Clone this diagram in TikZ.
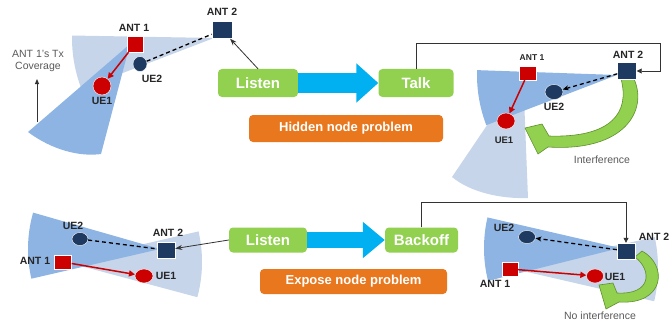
\documentclass[tikz,border=0pt]{standalone}
\usepackage{fontspec}
\setmainfont{Liberation Sans}
\usetikzlibrary{arrows.meta,shapes.geometric,calc}
\definecolor{lightcone}{HTML}{C6D5E9}
\definecolor{darkcone}{HTML}{8EB4E3}
\definecolor{navy}{HTML}{1F3A60}
\definecolor{redant}{HTML}{CC0000}
\definecolor{greenbox}{HTML}{92D050}
\definecolor{orangebox}{HTML}{E8771E}
\definecolor{cyanarrow}{HTML}{00B0F0}
\definecolor{greenedge}{HTML}{5E8F2A}
\definecolor{labelgray}{HTML}{595959}
\begin{document}
\begin{tikzpicture}[x=1pt,y=-1pt,
  antR/.style={rectangle,inner sep=0,fill=redant,draw=white,line width=0.4pt},
  antB/.style={rectangle,inner sep=0,fill=navy,draw=white,line width=0.4pt},
  ueR/.style={ellipse,inner sep=0,fill=redant,draw=white,line width=0.4pt},
  ueB/.style={ellipse,inner sep=0,fill=navy,draw=white,line width=0.4pt},
  lbl/.style={font=\fontsize{10.5}{12}\selectfont\bfseries,text=black!85,inner sep=0},
  stepbox/.style={rounded corners=4pt,fill=greenbox,text=white,font=\fontsize{15}{18}\selectfont\bfseries,inner sep=0},
  probbox/.style={rounded corners=4pt,fill=orangebox,text=white,font=\fontsize{13}{15}\selectfont\bfseries,inner sep=0},
  note/.style={font=\fontsize{10.5}{12}\selectfont,text=labelgray,inner sep=0},
  tx/.style={redant,line width=1.5pt,-{Triangle[length=6pt,width=6pt]}},
  dsh/.style={black,line width=1.3pt,dash pattern=on 4pt off 3pt},
  dsharrow/.style={dsh,-{Stealth[length=6pt,width=5pt]}},
  ctl/.style={black!80,line width=0.8pt},
  interf/.style={fill=greenbox,draw=greenedge,line width=0.6pt}]
\useasboundingbox (0,0) rectangle (669,321);

% ---------- coverage cones ----------
% top-left
\fill[lightcone] (214,38) -- plot[domain=159:181,samples=25] ({214+142*cos(\x)},{38+142*sin(\x)}) -- cycle;
\fill[darkcone] (130,44) -- (28,132) .. controls (52,150) and (80,157) .. (101,154) -- cycle;
% top-right
\fill[lightcone] (523,72) -- (452,177) .. controls (470,192) and (500,199) .. (528,198) -- cycle;
\fill[darkcone] (617,75) -- plot[domain=159:182,samples=25] ({617+140*cos(\x)},{75+140*sin(\x)}) -- cycle;
% bottom-left
\fill[lightcone] (66,262) -- plot[domain=-13:15,samples=25] ({66+136*cos(\x)},{262+136*sin(\x)}) -- cycle;
\fill[darkcone] (160,249) -- plot[domain=167:196,samples=25] ({160+132*cos(\x)},{249+132*sin(\x)}) -- cycle;
% bottom-right
\fill[lightcone] (510,268) -- plot[domain=-12:13,samples=25] ({510+148*cos(\x)},{268+148*sin(\x)}) -- cycle;
\fill[darkcone] (620,248) -- plot[domain=166:193,samples=25] ({620+136*cos(\x)},{248+136*sin(\x)}) -- cycle;

% ---------- process boxes ----------
\node[stepbox,minimum width=80pt,minimum height=28pt] (L1) at (258,83) {Listen};
\node[stepbox,minimum width=75pt,minimum height=28pt] (T) at (416,83) {Talk};
\node[probbox,minimum width=194pt,minimum height=27pt] (HP) at (346,128.5) {Hidden node problem};
\node[stepbox,minimum width=78pt,minimum height=25pt] (L2) at (268,240) {Listen};
\node[stepbox,minimum width=73pt,minimum height=25pt] (B) at (421.5,240) {Backoff};
\node[probbox,minimum width=187pt,minimum height=25pt] (EP) at (353.5,281.5) {Expose node problem};
\draw[cyanarrow,line width=20pt,-{Triangle[length=22pt,width=38pt]}] (L1.east) -- (T.west);
\draw[cyanarrow,line width=16pt,-{Triangle[length=22pt,width=35pt]}] (L2.east) -- (B.west);

% ---------- interference arrows ----------
\draw[interf] (621,79) .. controls (630,112) and (612,138) .. (549,136) -- (542,124) -- (525,128) -- (538,154) -- (548,147) .. controls (625,152) and (648,110) .. (634,79) -- cycle;
\draw[interf] (635,257) .. controls (652,270) and (652,295) .. (617,293) -- (613,283) -- (599,285) -- (606,309) -- (619,302) .. controls (665,305) and (668,265) .. (642,251) -- cycle;

% ---------- top-left panel ----------
\node[antR,minimum width=16pt,minimum height=16pt] (tlA1) at (135,44) {};
\node[antB,minimum width=20pt,minimum height=17pt] (tlA2) at (222,30) {};
\node[ueR,minimum width=18pt,minimum height=18pt] (tlU1) at (102,86) {};
\node[ueB,minimum width=14pt,minimum height=15pt] (tlU2) at (140,64) {};
\node[lbl] at (134,28) {ANT 1};
\node[lbl] at (222,12) {ANT 2};
\node[lbl] at (102,101) {UE1};
\node[lbl] at (152,79) {UE2};
\draw[tx] (tlA1) -- (tlU1);
\draw[dsh] (tlU2) -- (tlA2);
\node[note,align=center] (cov) at (38,61) {ANT 1's Tx\\Coverage};
\coordinate (covbot) at (37,122);
\draw[ctl,line width=1pt,-{Triangle[length=5pt,width=4pt]}] (covbot) -- (37,79);
\draw[ctl,-{Stealth[length=7pt,width=5pt]}] (L1.north) -- (tlA2);

% ---------- top-right panel ----------
\node[antR,minimum width=17pt,minimum height=14pt] (trA1) at (528,73) {};
\node[antB,minimum width=19pt,minimum height=17pt] (trA2) at (627,71) {};
\node[ueR,minimum width=18pt,minimum height=16pt] (trU1) at (506,121) {};
\node[ueB,minimum width=18pt,minimum height=15pt] (trU2) at (554,92) {};
\node[lbl,font=\fontsize{8.5}{10}\selectfont\bfseries] at (532,58) {ANT 1};
\node[lbl] at (628,55) {ANT 2};
\node[lbl,font=\fontsize{9.5}{11}\selectfont\bfseries] at (504,140) {UE1};
\node[lbl] at (554,107) {UE2};
\node[note] at (602,160) {Interference};
\draw[tx] (trA1) -- (trU1);
\draw[dsharrow] (trA2) -- (trU2);
\coordinate (rt) at (660,43);
\draw[ctl,-{Triangle[length=5pt,width=5pt]}] (T.north) |- (rt) |- (trA2.east);

% ---------- bottom-left panel ----------
\node[antR,minimum width=17pt,minimum height=14pt] (blA1) at (63,262) {};
\node[antB,minimum width=18pt,minimum height=16pt] (blA2) at (166,250) {};
\node[ueR,minimum width=18pt,minimum height=14pt] (blU1) at (144,276) {};
\node[ueB,minimum width=16pt,minimum height=13pt] (blU2) at (80,239) {};
\node[lbl] at (35,261) {ANT 1};
\node[lbl] at (168,233) {ANT 2};
\node[lbl] at (166,276) {UE1};
\node[lbl] at (73,226) {UE2};
\draw[tx] (blA1) -- (blU1);
\draw[dsh] (blU2) -- (blA2);
\draw[ctl,-{Stealth[length=7pt,width=5pt]}] (L2.west) -- (blA2);

% ---------- bottom-right panel ----------
\node[antR,minimum width=16pt,minimum height=14pt] (brA1) at (510,269) {};
\node[antB,minimum width=18pt,minimum height=16pt] (brA2) at (626,251) {};
\node[ueR,minimum width=17pt,minimum height=14pt] (brU1) at (595,276) {};
\node[ueB,minimum width=17pt,minimum height=13pt] (brU2) at (527,237) {};
\node[lbl] at (495,284) {ANT 1};
\node[lbl] at (654,237) {ANT 2};
\node[lbl] at (615,277) {UE1};
\node[lbl] at (504,228) {UE2};
\node[note] at (600,316) {No interference};
\draw[tx] (brA1) -- (brU1);
\draw[dsharrow] (brA2) -- (brU2);
\coordinate (rb) at (626,202);
\draw[ctl,-{Triangle[length=5pt,width=5pt]}] (B.north) |- (rb) -- (brA2.north);
\end{tikzpicture}
\end{document}
